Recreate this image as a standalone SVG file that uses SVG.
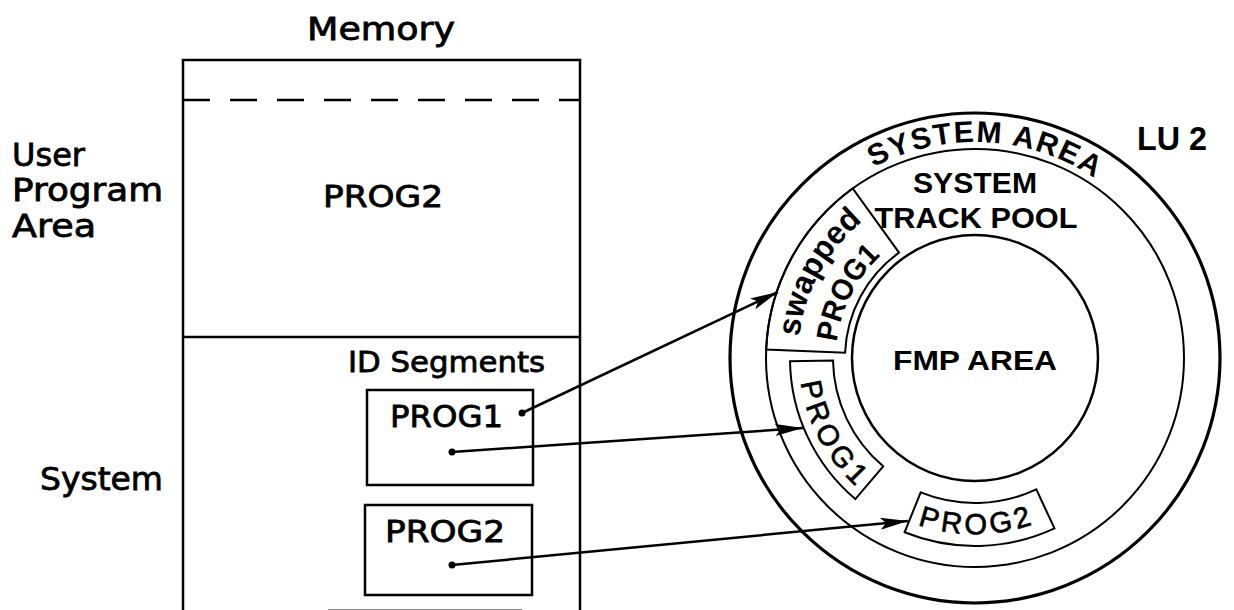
<svg xmlns="http://www.w3.org/2000/svg" xmlns:xlink="http://www.w3.org/1999/xlink" width="1234" height="610" viewBox="0 0 1234 610">
<style>
.bg{fill:#fff}
.ln{fill:none;stroke:#000;stroke-width:2.5}
.thin{fill:none;stroke:#000;stroke-width:2}
.geo{font-family:"DejaVu Sans","Liberation Sans",sans-serif;fill:#000;stroke:#000;stroke-width:0.8}
.hb{font-family:"Liberation Sans",Arial,sans-serif;font-weight:bold;fill:#000}
.hr{font-family:"Liberation Sans",Arial,sans-serif;fill:#000;stroke:#000;stroke-width:0.7}
.conn{fill:none;stroke:#000;stroke-width:2.5}
.dot{fill:#000}
</style>
<defs>
<marker id="ah" viewBox="0 0 28 12" refX="28" refY="6" markerWidth="28" markerHeight="12" markerUnits="userSpaceOnUse" orient="auto">
<path d="M0,0 L28,6 L0,12 L6,6 Z" fill="#000"/>
</marker>
<path id="pSysArea" d="M836.2,192.5 A216 216 0 0 1 1127.7,205.3"/>
<path id="pSwapped" d="M798.4,345.7 A177 177 0 0 1 886.5,204.7"/>
<path id="pSwProg" d="M836.2,350.7 A139 139 0 0 1 905.5,237.6"/>
<path id="pProg1" d="M800.0,376.4 A175 175 0 0 0 862.5,492.1"/>
<path id="pProg2" d="M909.1,521.6 A176 176 0 0 0 1063.0,510.4"/>
</defs>
<rect class="bg" x="0" y="0" width="1234" height="610"/>

<g id="memory">
<text class="geo" x="381" y="40" font-size="32" text-anchor="middle" textLength="148" lengthAdjust="spacingAndGlyphs">Memory</text>
<path class="ln" d="M183,610 L183,60 L580,60 L580,610"/>
<line x1="183" y1="100" x2="580" y2="100" stroke="#000" stroke-width="2.5" stroke-dasharray="27 20"/>
<line class="ln" x1="183" y1="337" x2="580" y2="337"/>
<line x1="328" y1="609.5" x2="522" y2="609.5" stroke="#888" stroke-width="1"/>
</g>

<g id="labels-left">
<text class="geo" x="12" y="166" font-size="32" textLength="73" lengthAdjust="spacingAndGlyphs">User</text>
<text class="geo" x="12" y="201" font-size="32" textLength="151" lengthAdjust="spacingAndGlyphs">Program</text>
<text class="geo" x="12" y="237" font-size="32" textLength="84" lengthAdjust="spacingAndGlyphs">Area</text>
<text class="geo" x="40" y="490" font-size="32" textLength="123" lengthAdjust="spacingAndGlyphs">System</text>
</g>

<g id="user-prog2">
<text class="geo" x="323" y="207" font-size="30" textLength="120" lengthAdjust="spacingAndGlyphs">PROG2</text>
</g>

<g id="id-segments">
<text class="geo" x="348" y="372" font-size="29" textLength="197" lengthAdjust="spacingAndGlyphs">ID Segments</text>
</g>

<g id="seg-prog1">
<rect class="ln" x="367" y="390" width="166" height="95"/>
<text class="geo" x="390" y="427" font-size="31" textLength="113" lengthAdjust="spacingAndGlyphs">PROG1</text>
</g>

<g id="seg-prog2">
<rect class="ln" x="365" y="505" width="167" height="90"/>
<text class="geo" x="385" y="542" font-size="31" textLength="120" lengthAdjust="spacingAndGlyphs">PROG2</text>
</g>

<g id="disk">
<circle cx="975" cy="358" r="245" fill="none" stroke="#000" stroke-width="3.2"/>
<circle class="thin" cx="975" cy="358" r="209"/>
<circle class="ln" cx="975" cy="358" r="123"/>
<text class="hb" font-size="30"><textPath xlink:href="#pSysArea" href="#pSysArea" startOffset="45" textLength="232" lengthAdjust="spacing">SYSTEM AREA</textPath></text>
<text class="hb" x="1172" y="150" font-size="34" text-anchor="middle" textLength="70" lengthAdjust="spacingAndGlyphs">LU 2</text>
</g>

<g id="track-pool">
<text class="hb" x="975" y="193" font-size="30" text-anchor="middle" textLength="124" lengthAdjust="spacingAndGlyphs">SYSTEM</text>
<text class="hb" x="976" y="228" font-size="30" text-anchor="middle" textLength="203" lengthAdjust="spacingAndGlyphs">TRACK POOL</text>
</g>

<g id="fmp-area">
<text class="hb" x="975" y="370" font-size="28" text-anchor="middle" textLength="164" lengthAdjust="spacingAndGlyphs">FMP AREA</text>
</g>

<g id="swapped-prog1">
<path class="thin" d="M766.2,349.6 A209 209 0 0 1 852.7,188.5 L899.0,252.6 A130 130 0 0 0 845.1,352.8 Z"/>
<text class="hb" font-size="32"><textPath xlink:href="#pSwapped" href="#pSwapped" startOffset="9" textLength="135" lengthAdjust="spacingAndGlyphs">swapped</textPath></text>
<text class="hb" font-size="30"><textPath xlink:href="#pSwProg" href="#pSwProg" startOffset="8.7" textLength="99" lengthAdjust="spacingAndGlyphs">PROG1</textPath></text>
</g>

<g id="disk-prog1">
<path class="thin" d="M790.0,361.2 A185 185 0 0 0 855.3,499.1 L883.2,466.3 A142 142 0 0 1 833.0,360.5 Z"/>
<text class="hr" font-size="29"><textPath xlink:href="#pProg1" href="#pProg1" startOffset="6" textLength="120" lengthAdjust="spacing">PROG1</textPath></text>
</g>

<g id="disk-prog2">
<path class="thin" d="M920.7,492.4 A145 145 0 0 0 1036.3,489.4 L1054.5,528.4 A188 188 0 0 1 904.6,532.3 Z"/>
<text class="hr" font-size="29"><textPath xlink:href="#pProg2" href="#pProg2" startOffset="9" textLength="117" lengthAdjust="spacing">PROG2</textPath></text>
</g>

<g id="connectors">
<circle class="dot" cx="522" cy="413" r="3.5"/>
<circle class="dot" cx="452" cy="452" r="3.5"/>
<circle class="dot" cx="452" cy="565" r="3.5"/>
<line class="conn" x1="522" y1="413" x2="778" y2="292" marker-end="url(#ah)"/>
<line class="conn" x1="452" y1="452" x2="803" y2="428" marker-end="url(#ah)"/>
<line class="conn" x1="452" y1="565" x2="908" y2="521" marker-end="url(#ah)"/>
</g>
</svg>
